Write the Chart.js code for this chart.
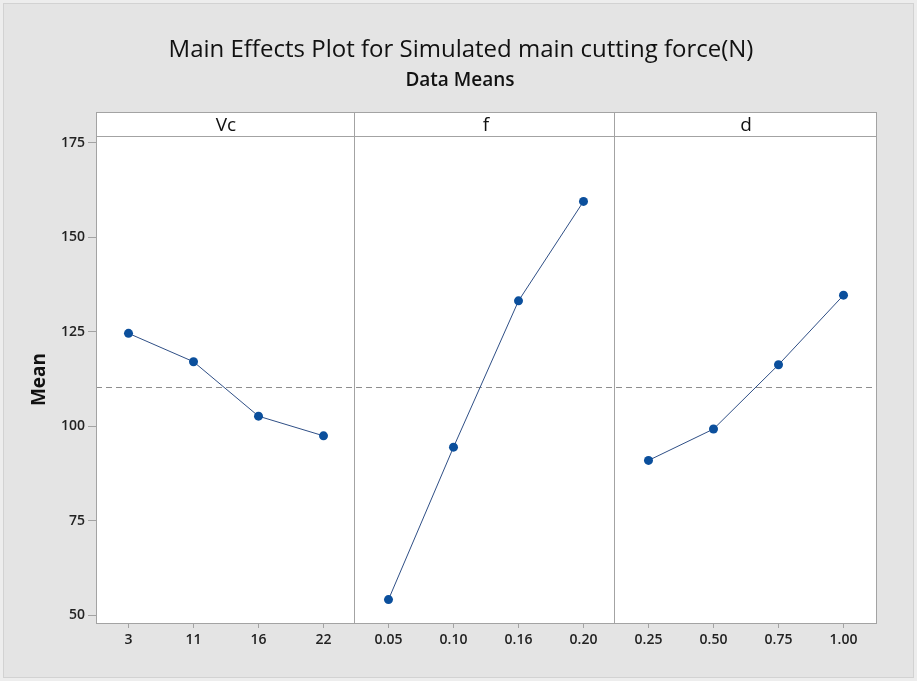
<!DOCTYPE html>
<html>
<head>
<meta charset="utf-8">
<script src="https://cdn.jsdelivr.net/npm/chart.js@4.4.1/dist/chart.umd.min.js"></script>
<style>
  html, body { margin: 0; padding: 0; background: #e4e4e4; }
  #wrap { width: 917px; height: 681px; }
</style>
</head>
<body>
<div id="wrap"><canvas id="chart" width="917" height="681"></canvas></div>
<script>
// factor levels (tick labels) per panel
const panelNames = ["Vc", "f", "d"];
const vcLevels = ["3", "11", "16", "22"];
const fLevels = ["0.05", "0.10", "0.16", "0.20"];
const dLevels = ["0.25", "0.50", "0.75", "1.00"];

// data means
const vcMeans = [124.6, 117.1, 102.7, 97.5];
const fMeans = [54.2, 94.5, 133.2, 159.5];
const dMeans = [91.0, 99.3, 116.3, 134.7];

const yTicks = [50, 75, 100, 125, 150, 175];

const allMeans = vcMeans.concat(fMeans, dMeans);
const grandMean = allMeans.reduce((a, b) => a + b, 0) / allMeans.length;

const lineColor = "#2f4f86";
const dotColor = "#0b4f9c";
const frameColor = "#a3a3a3";
const FONT = "'Open Sans', sans-serif";

function panelData(levels, means) {
    return levels.map((l, i) => ({ x: l, y: means[i] }));
}

function makeSet(levels, means) {
    return {
        data: panelData(levels, means),
        borderColor: lineColor,
        borderWidth: 1,
        backgroundColor: dotColor,
        pointBackgroundColor: dotColor,
        pointBorderColor: dotColor,
        pointBorderWidth: 0,
        pointRadius: 4.5,
        tension: 0
    };
}

// background, strip headers, panel dividers, mean line, titles
const panelsPlugin = {
    id: "panels",
    beforeDraw(chart) {
        let ctx = chart.ctx, a = chart.chartArea;
        ctx.save();
        ctx.fillStyle = "#ededed";
        ctx.fillRect(0, 0, chart.width, chart.height);
        ctx.fillStyle = "#e4e4e4";
        ctx.fillRect(4, 4, chart.width - 8, chart.height - 8);
        ctx.strokeStyle = "#d2d2d2";
        ctx.lineWidth = 1;
        ctx.strokeRect(3.5, 3.5, chart.width - 7, chart.height - 7);
        ctx.fillStyle = "#ffffff";
        ctx.fillRect(a.left, a.top - 24, a.right - a.left, a.bottom - a.top + 24);
        ctx.restore();
    },
    beforeDatasetsDraw(chart) {
        let ctx = chart.ctx, a = chart.chartArea;
        let y = Math.round(chart.scales.y.getPixelForValue(grandMean)) + 0.5;
        ctx.save();
        ctx.strokeStyle = "#8e8e8e";
        ctx.lineWidth = 1;
        ctx.setLineDash([6, 4]);
        ctx.beginPath();
        ctx.moveTo(a.left, y);
        ctx.lineTo(a.right, y);
        ctx.stroke();
        ctx.restore();
    },
    afterDraw(chart) {
        let ctx = chart.ctx, a = chart.chartArea, xs = chart.scales.x;
        let stripTop = a.top - 24;
        ctx.save();
        ctx.strokeStyle = frameColor;
        ctx.lineWidth = 1;
        ctx.strokeRect(a.left + 0.5, stripTop + 0.5, a.right - a.left, a.bottom - stripTop);
        ctx.beginPath();
        ctx.moveTo(a.left, a.top + 0.5);
        ctx.lineTo(a.right, a.top + 0.5);
        // dividers between the three factors
        let step = xs.getPixelForValue(1) - xs.getPixelForValue(0);
        for (let p = 1; p < panelNames.length; p++) {
            let x = Math.round(xs.getPixelForValue(p * 4 - 1) + step / 2) - 1.5;
            ctx.moveTo(x, stripTop);
            ctx.lineTo(x, a.bottom);
        }
        ctx.stroke();

        ctx.fillStyle = "#111";
        ctx.textAlign = "center";
        ctx.textBaseline = "alphabetic";
        ctx.font = "19px " + FONT;
        panelNames.forEach((name, p) => {
            let cx = (xs.getPixelForValue(p * 4) + xs.getPixelForValue(p * 4 + 3)) / 2;
            ctx.fillText(name, cx, a.top - 5);
        });

        ctx.font = "24px " + FONT;
        ctx.fillText("Main Effects Plot for Simulated main cutting force(N)", 461, 57);
        ctx.font = "600 19px " + FONT;
        ctx.fillText("Data Means", 460, 86);
        ctx.restore();
    }
};

let ctx = document.getElementById("chart");

new Chart(ctx, {
    type: "line",
    data: {
        labels: vcLevels.concat(fLevels, dLevels),
        datasets: [
            makeSet(vcLevels, vcMeans),
            makeSet(fLevels, fMeans),
            makeSet(dLevels, dMeans)
        ]
    },
    options: {
        responsive: false,
        animation: false,
        layout: { padding: { top: 136, right: 41, bottom: 0, left: 0 } },
        plugins: {
            legend: { display: false },
            tooltip: { enabled: false }
        },
        scales: {
            x: {
                type: "category",
                offset: true,
                afterFit: (s) => { s.height = 58; },
                grid: {
                    display: true,
                    drawOnChartArea: false,
                    drawTicks: true,
                    tickLength: 5,
                    color: frameColor,
                    offset: false
                },
                border: { display: false },
                ticks: {
                    color: "#222",
                    font: { family: FONT, size: 14, weight: "600" },
                    padding: 4,
                    autoSkip: false,
                    maxRotation: 0
                }
            },
            y: {
                min: 48.0,
                max: 176.8,
                afterFit: (s) => { s.width = 96; },
                afterBuildTicks: (s) => { s.ticks = yTicks.map((v) => ({ value: v })); },
                grid: {
                    display: true,
                    drawOnChartArea: false,
                    drawTicks: true,
                    tickLength: 8,
                    color: frameColor
                },
                border: { display: false },
                ticks: {
                    color: "#222",
                    font: { family: FONT, size: 14, weight: "600" },
                    padding: 3
                },
                title: {
                    display: true,
                    text: "Mean",
                    color: "#111",
                    font: { family: FONT, size: 19, weight: "bold" },
                    padding: { top: 28, bottom: 0 }
                }
            }
        }
    },
    plugins: [panelsPlugin]
});
</script>
</body>
</html>
